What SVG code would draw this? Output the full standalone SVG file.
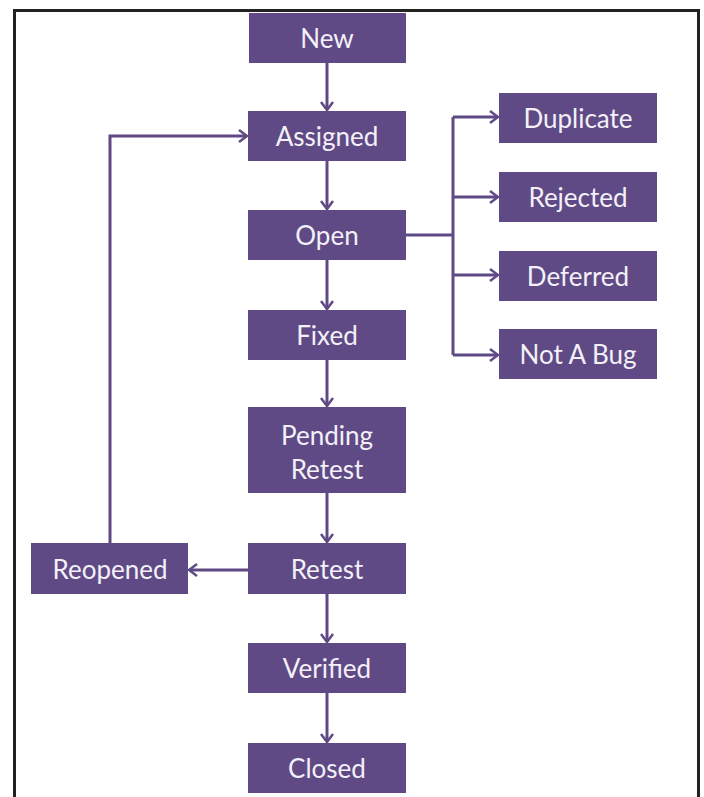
<svg xmlns="http://www.w3.org/2000/svg" width="704" height="797" viewBox="0 0 704 797">
<style>
.n rect{fill:#5f4a86;}
.n text{fill:#f3f0f7;font-family:Lato,"Open Sans",sans-serif;font-size:26px;text-anchor:middle;dominant-baseline:central;}
.c path{fill:none;stroke:#5f4a86;stroke-width:3;}
</style>
<defs>
<marker id="ah" viewBox="0 0 14 14" refX="13" refY="7" markerWidth="14" markerHeight="14" markerUnits="userSpaceOnUse" orient="auto">
<path d="M5,1 L13,7 L5,13" fill="none" stroke="#5f4a86" stroke-width="2.5"/>
</marker>
</defs>
<rect width="704" height="797" fill="#ffffff"/>
<path d="M14.5,797 V10.5 H698.5 V797" fill="none" stroke="#222" stroke-width="3"/>
<g class="c">
<path d="M327,63 V110" marker-end="url(#ah)"/>
<path d="M327,161 V209" marker-end="url(#ah)"/>
<path d="M327,260 V309" marker-end="url(#ah)"/>
<path d="M327,360 V406" marker-end="url(#ah)"/>
<path d="M327,493 V542" marker-end="url(#ah)"/>
<path d="M327,594 V642" marker-end="url(#ah)"/>
<path d="M327,693 V742" marker-end="url(#ah)"/>
<path d="M248,570 H189" marker-end="url(#ah)"/>
<path d="M110,543 V136 H247" marker-end="url(#ah)"/>
<path d="M406,235 H453"/>
<path d="M453,117 V355"/>
<path d="M453,117 H498" marker-end="url(#ah)"/>
<path d="M453,197 H498" marker-end="url(#ah)"/>
<path d="M453,275 H498" marker-end="url(#ah)"/>
<path d="M453,355 H498" marker-end="url(#ah)"/>
</g>
<g id="new" class="n"><rect x="249" y="13" width="157" height="50"/><text x="327" y="38">New</text></g>
<g id="assigned" class="n"><rect x="248" y="111" width="158" height="50"/><text x="327" y="136">Assigned</text></g>
<g id="open" class="n"><rect x="248" y="210" width="158" height="50"/><text x="327" y="235">Open</text></g>
<g id="fixed" class="n"><rect x="248" y="310" width="158" height="50"/><text x="327" y="335">Fixed</text></g>
<g id="pending" class="n"><rect x="248" y="407" width="158" height="86"/><text x="327" y="435">Pending</text><text x="327" y="469">Retest</text></g>
<g id="retest" class="n"><rect x="248" y="543" width="158" height="51"/><text x="327" y="569">Retest</text></g>
<g id="reopened" class="n"><rect x="31" y="543" width="157" height="51"/><text x="110" y="569">Reopened</text></g>
<g id="verified" class="n"><rect x="248" y="643" width="158" height="50"/><text x="327" y="668">Verified</text></g>
<g id="closed" class="n"><rect x="248" y="743" width="158" height="50"/><text x="327" y="768">Closed</text></g>
<g id="duplicate" class="n"><rect x="499" y="93" width="158" height="50"/><text x="578" y="118">Duplicate</text></g>
<g id="rejected" class="n"><rect x="499" y="172" width="158" height="50"/><text x="578" y="197">Rejected</text></g>
<g id="deferred" class="n"><rect x="499" y="251" width="158" height="50"/><text x="578" y="276">Deferred</text></g>
<g id="notabug" class="n"><rect x="499" y="329" width="158" height="50"/><text x="578" y="354">Not A Bug</text></g>
</svg>
